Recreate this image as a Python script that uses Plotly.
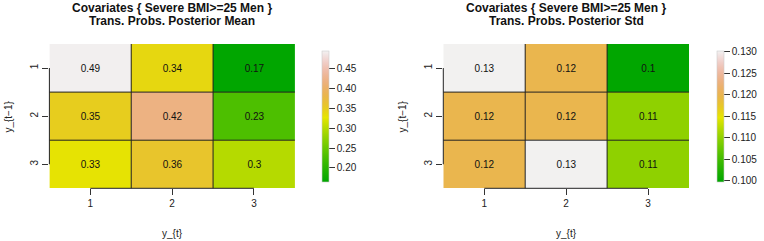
import colorsys
import plotly.graph_objects as go

# ---- data ----
rows = ["1", "2", "3"]          # y_{t-1}
cols = ["1", "2", "3"]          # y_{t}
mean_vals = [[0.494, 0.34, 0.166],
             [0.35, 0.42, 0.23],
             [0.33, 0.36, 0.30]]
mean_text = [["0.49", "0.34", "0.17"],
             ["0.35", "0.42", "0.23"],
             ["0.33", "0.36", "0.3"]]
std_vals = [[0.1302, 0.12, 0.0999],
            [0.12, 0.12, 0.11],
            [0.12, 0.1302, 0.11]]
std_text = [["0.13", "0.12", "0.1"],
            ["0.12", "0.12", "0.11"],
            ["0.12", "0.13", "0.11"]]
mean_range = [0.165, 0.496]
std_range = [0.0998, 0.1303]
mean_ticks = [0.20, 0.25, 0.30, 0.35, 0.40, 0.45]
std_ticks = [0.100, 0.105, 0.110, 0.115, 0.120, 0.125, 0.130]
title_line1 = "Covariates { Severe BMI>=25 Men }"
titles_line2 = ["Trans. Probs. Posterior Mean", "Trans. Probs. Posterior Std"]


def terrain_colors(n):
    k = n // 2
    out = []
    def seq(a, b, m):
        if m == 1:
            return [a]
        return [a + (b - a) * i / (m - 1) for i in range(m)]
    h1, s1, v1 = seq(4/12, 2/12, k), seq(1, 1, k), seq(0.65, 0.9, k)
    m = n - k + 1
    h2, s2, v2 = seq(2/12, 0, m)[1:], seq(1, 0, m)[1:], seq(0.9, 0.95, m)[1:]
    for h, s, v in list(zip(h1, s1, v1)) + list(zip(h2, s2, v2)):
        r, g, b = colorsys.hsv_to_rgb(h, s, v)
        out.append("rgb(%d,%d,%d)" % (round(r*255), round(g*255), round(b*255)))
    return out

cols_t = terrain_colors(64)
cscale = [[i / (len(cols_t) - 1), c] for i, c in enumerate(cols_t)]

W, H = 764, 241
def px(x):
    return x / W
def py(y):
    return 1 - y / H

FONT = "Liberation Sans, Arial, sans-serif"
fig = go.Figure()

panels = [
    dict(z=mean_vals, text=mean_text, rng=mean_range, ticks=mean_ticks, fmt="%.2f",
         xd=[49.4, 294.9], cbx=322.3, xa="x", ya="y"),
    dict(z=std_vals, text=std_text, rng=std_range, ticks=std_ticks, fmt="%.3f",
         xd=[443.3, 689.0], cbx=717.3, xa="x2", ya="y2"),
]
ydom = [py(188.3), py(44.0)]

for i, p in enumerate(panels):
    fig.add_trace(go.Heatmap(
        z=p["z"], x=cols, y=rows, text=p["text"], texttemplate="%{text}",
        textfont=dict(family=FONT, size=10, color="#111"),
        colorscale=cscale, zmin=p["rng"][0], zmax=p["rng"][1],
        xaxis=p["xa"], yaxis=p["ya"], hoverinfo="skip",
        colorbar=dict(
            x=px(p["cbx"]), xanchor="left", xpad=0, ypad=0,
            y=py(116.2), yanchor="middle", lenmode="pixels", len=131,
            thickness=6.5, outlinewidth=0.6, outlinecolor="#ccc",
            ticks="outside", ticklen=6, tickwidth=1, tickcolor="#333",
            tickvals=p["ticks"], ticktext=[p["fmt"] % t for t in p["ticks"]],
            tickfont=dict(family=FONT, size=10, color="#222"),
        ),
    ))
    sfx = "" if i == 0 else "2"
    axx = dict(domain=[px(p["xd"][0]), px(p["xd"][1])], anchor="y" + sfx,
               type="category", showgrid=False, zeroline=False, showline=False,
               ticks="outside", ticklen=6, tickwidth=1, tickcolor="#333",
               automargin=False, fixedrange=True,
               tickfont=dict(family=FONT, size=10, color="#222"))
    axy = dict(domain=ydom, anchor="x" + sfx, type="category",
               autorange="reversed", showgrid=False, zeroline=False, showline=False,
               ticks="outside", ticklen=6, tickwidth=1, tickcolor="#333",
               tickangle=-90, automargin=False, fixedrange=True,
               tickfont=dict(family=FONT, size=10, color="#222"))
    fig.update_layout(**{"xaxis" + sfx: axx, "yaxis" + sfx: axy})

    xr, yr = p["xa"], p["ya"]
    line = dict(color="#222", width=1)
    for b in [0.5, 1.5]:
        fig.add_shape(type="line", xref=xr, yref=yr + " domain", x0=b, x1=b, y0=0, y1=1, line=line)
        fig.add_shape(type="line", xref=xr + " domain", yref=yr, x0=0, x1=1, y0=b, y1=b, line=line)
    # R-style axis lines spanning first to last tick
    fig.add_shape(type="line", xref=xr, yref=yr + " domain", x0=0, x1=2, y0=0, y1=0, line=line)
    fig.add_shape(type="line", xref=xr + " domain", yref=yr, x0=0, x1=0, y0=0, y1=2, line=line)

    cx = px((p["xd"][0] + p["xd"][1]) / 2)
    ann = dict(xref="paper", yref="paper", showarrow=False, xanchor="center", yanchor="middle")
    fig.add_annotation(text="<b>%s</b>" % title_line1, x=cx, y=py(8),
                       font=dict(family=FONT, size=12, color="#111"), **ann)
    fig.add_annotation(text="<b>%s</b>" % titles_line2[i], x=cx, y=py(20.5),
                       font=dict(family=FONT, size=12, color="#111"), **ann)
    fig.add_annotation(text="y_{t}", x=cx, y=py(233),
                       font=dict(family=FONT, size=10, color="#222"), **ann)
    fig.add_annotation(text="y_{t\u22121}", x=px(p["xd"][0] - 41), y=py(116.2), textangle=-90,
                       font=dict(family=FONT, size=10, color="#222"), **ann)

fig.update_layout(width=W, height=H, margin=dict(l=0, r=0, t=0, b=0, autoexpand=False),
                  paper_bgcolor="white", plot_bgcolor="white", showlegend=False,
                  hovermode=False)
fig.write_html("out.html", config={"displayModeBar": False, "staticPlot": True},
               post_script="document.body.style.margin='0';")
